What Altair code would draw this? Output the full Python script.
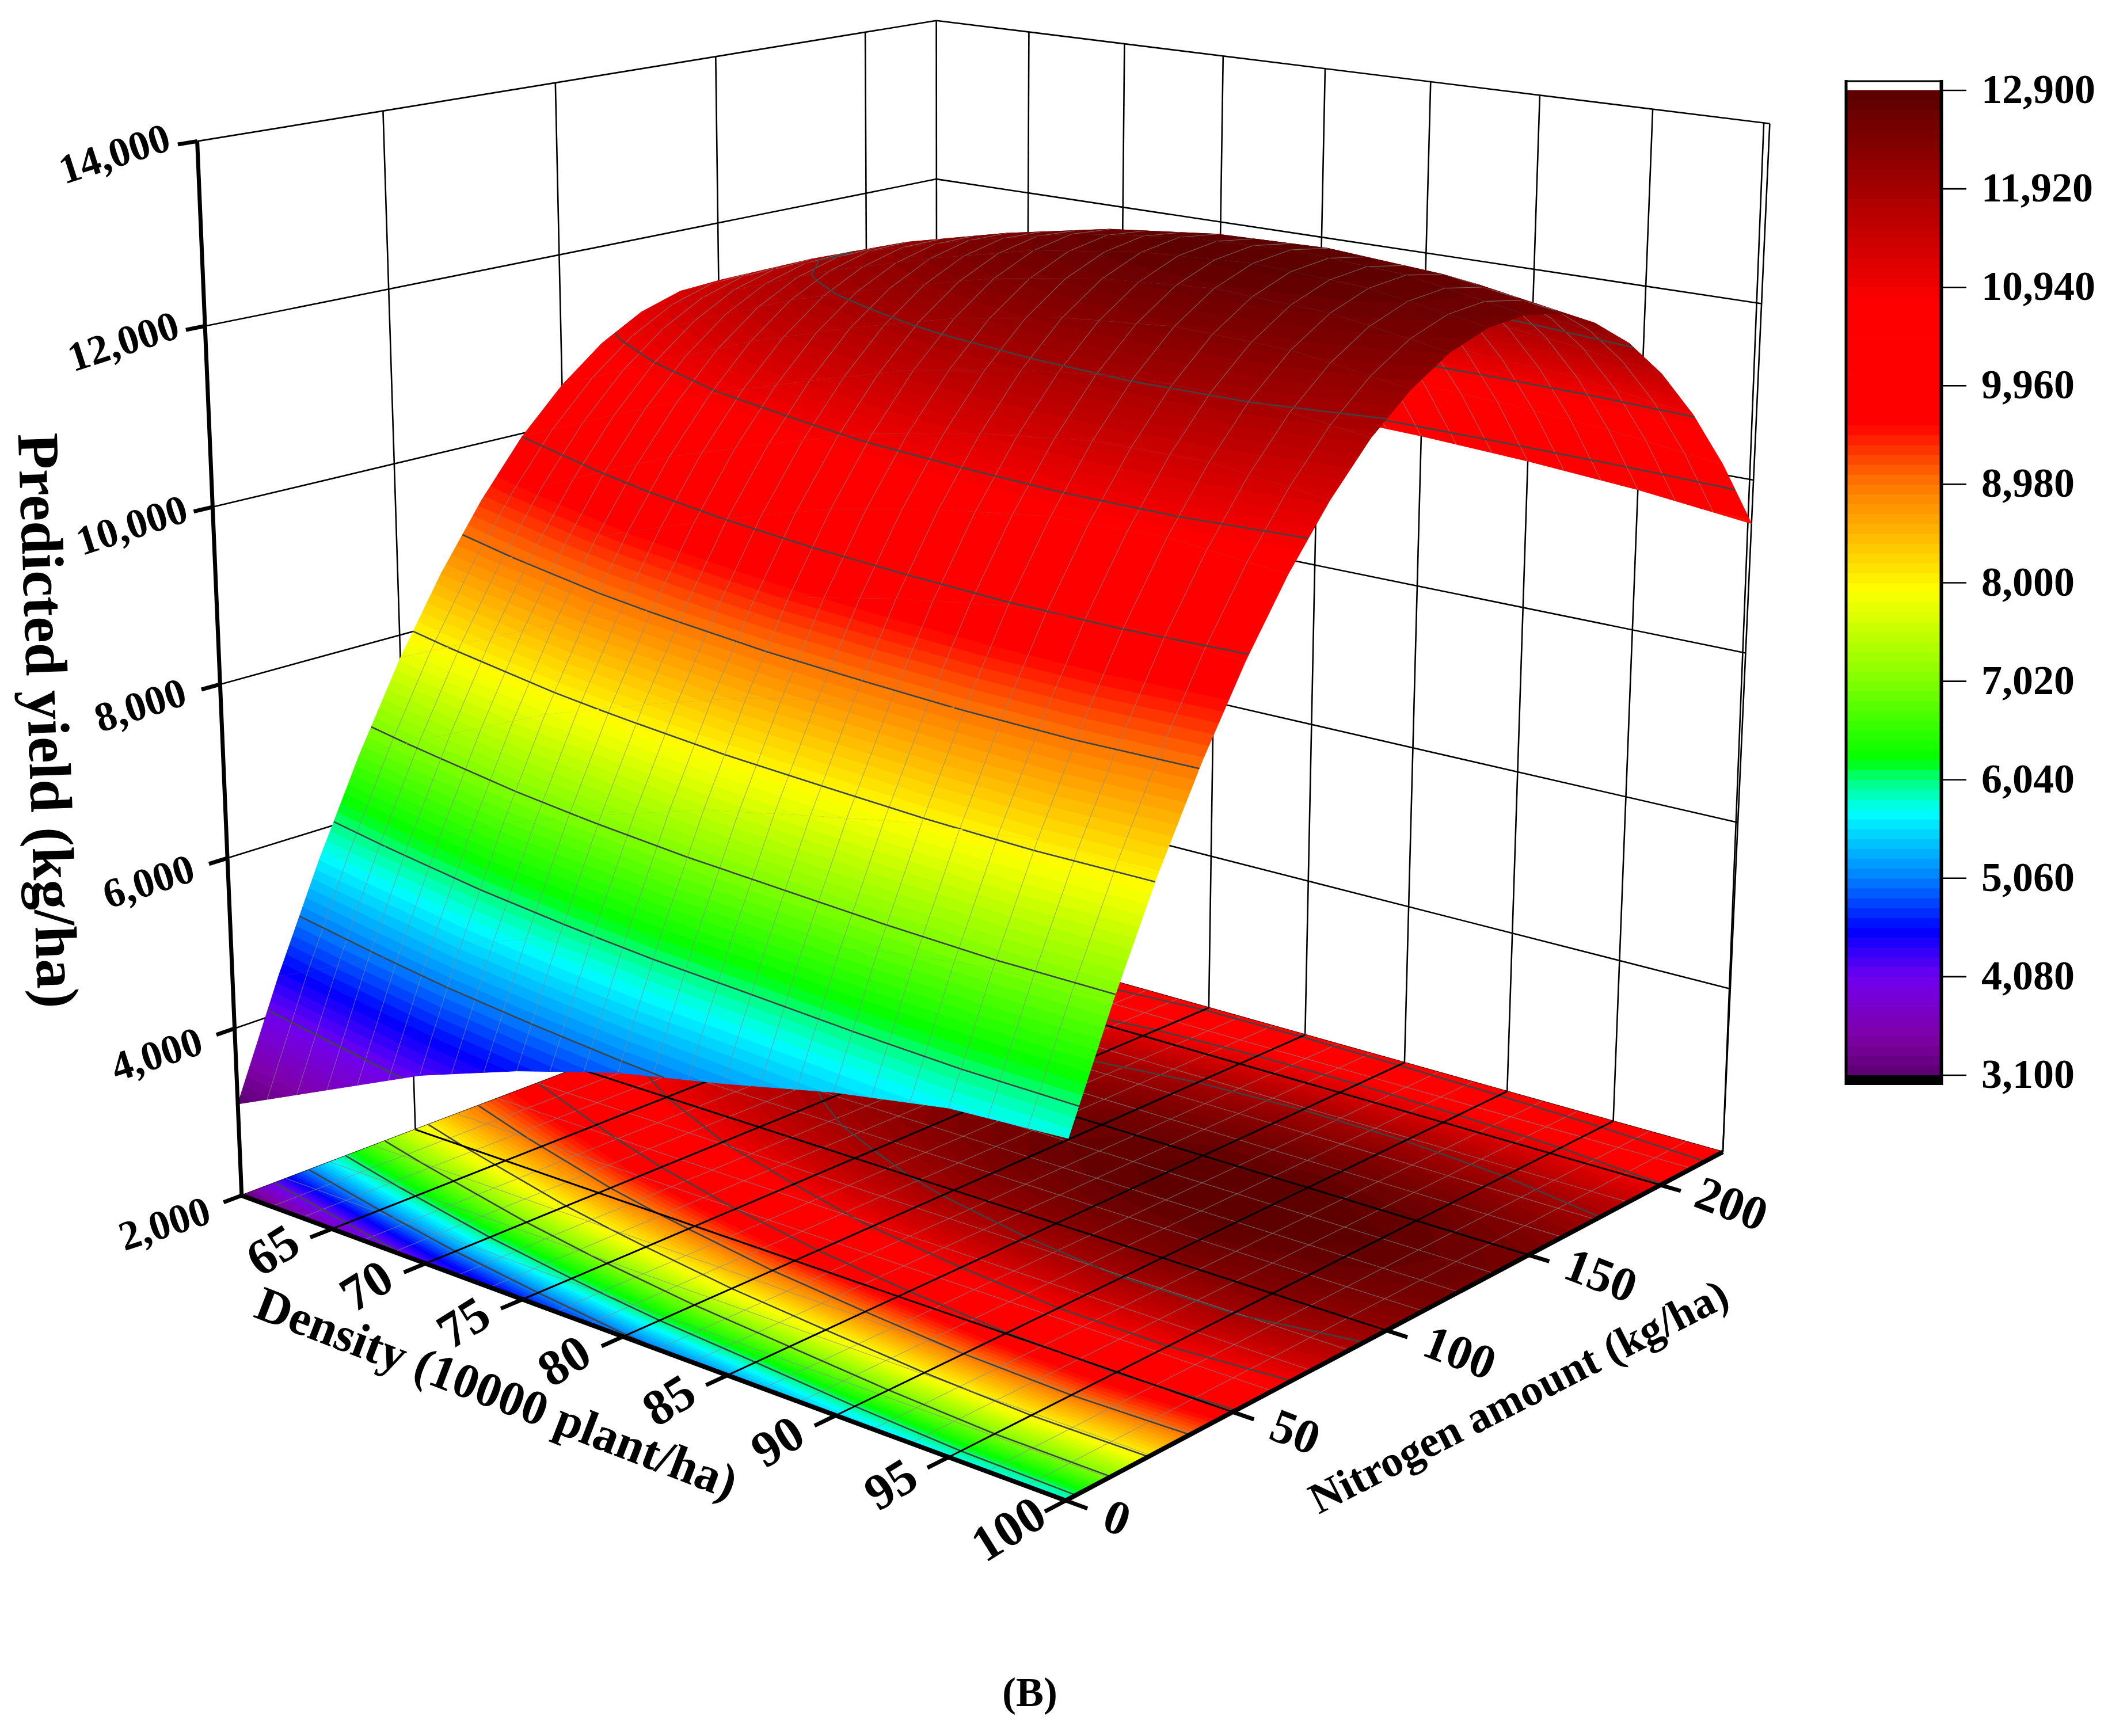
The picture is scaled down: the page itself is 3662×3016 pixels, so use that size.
import altair as alt
import numpy as np
import pandas as pd

density = [60, 65, 70, 75, 80, 85, 90, 95, 100]
nitrogen = [0, 12.5, 25, 37.5, 50, 62.5, 75, 87.5, 100, 112.5, 125, 137.5, 150, 162.5, 175, 187.5, 200, 212.5, 225]

# predicted yield, one row per density
yield_60 = [3100, 4430, 5640, 6740, 7730, 8590, 9330, 9960, 10460, 10850, 11120, 11270, 11300, 11210, 11000, 10680, 10230, 9670, 8990]
yield_65 = [3640, 4970, 6180, 7270, 8240, 9090, 9820, 10440, 10940, 11320, 11580, 11720, 11750, 11650, 11440, 11110, 10660, 10090, 9400]
yield_70 = [4180, 5500, 6700, 7780, 8740, 9580, 10300, 10900, 11390, 11760, 12000, 12130, 12140, 12030, 11800, 11450, 10990, 10400, 9700]
yield_75 = [4600, 5910, 7110, 8180, 9130, 9970, 10680, 11270, 11750, 12100, 12330, 12440, 12430, 12300, 12050, 11680, 11190, 10580, 9850]
yield_80 = [4950, 6270, 7470, 8540, 9490, 10320, 11020, 11600, 12060, 12400, 12610, 12700, 12660, 12500, 12220, 11820, 11290, 10640, 9860]
yield_85 = [5200, 6520, 7720, 8790, 9740, 10560, 11250, 11820, 12270, 12590, 12780, 12850, 12790, 12610, 12300, 11870, 11310, 10630, 9820]
yield_90 = [5480, 6780, 7950, 9000, 9930, 10730, 11400, 11950, 12380, 12680, 12850, 12900, 12820, 12620, 12300, 11850, 11270, 10570, 9750]
yield_95 = [5690, 6950, 8090, 9100, 9990, 10760, 11410, 11940, 12340, 12620, 12780, 12820, 12730, 12520, 12190, 11740, 11170, 10470, 9650]
yield_100 = [5760, 6970, 8070, 9040, 9900, 10640, 11260, 11770, 12150, 12420, 12570, 12600, 12510, 12300, 11980, 11540, 10980, 10300, 9500]
yields = [yield_60, yield_65, yield_70, yield_75, yield_80, yield_85, yield_90, yield_95, yield_100]

yield_ticks = [2000, 4000, 6000, 8000, 10000, 12000, 14000]
density_ticks = [65, 70, 75, 80, 85, 90, 95, 100]
nitrogen_ticks = [0, 50, 100, 150, 200]
legend_ticks = [3100, 4080, 5060, 6040, 7020, 8000, 8980, 9960, 10940, 11920, 12900]

color_levels = [3100, 3500, 4080, 4540, 5060, 5720, 6040, 6240, 7020, 7930, 8980, 9590, 10780, 11920, 12900]
color_hex = ["#5c0070", "#8000a8", "#7000f0", "#0000ff", "#0080ff", "#00ffff", "#00ff80", "#00ff00", "#80ff00",
             "#ffff00", "#ff7800", "#ff0000", "#ff0000", "#a40000", "#5a0000"]

# box corners and ticks as they sit in the picture, used to fit the camera
camera_marks = [
    (60, 0, 2000, 421, 2079), (60, 0, 14000, 343, 243), (60, 225, 14000, 1628, 35),
    (60, 225, 2000, 1628, 1615), (100, 225, 14000, 3074, 215), (100, 225, 2000, 2992, 2002),
    (100, 0, 2000, 1856, 2604), (100, 50, 2000, 2144, 2453), (100, 100, 2000, 2409, 2312),
    (100, 150, 2000, 2657, 2182), (100, 200, 2000, 2885, 2060), (65, 0, 2000, 580, 2134),
    (70, 0, 2000, 738, 2197), (75, 0, 2000, 906, 2258), (80, 0, 2000, 1080, 2324),
    (85, 0, 2000, 1263, 2390), (90, 0, 2000, 1447, 2458), (95, 0, 2000, 1646, 2527),
    (60, 0, 8000, 383, 1191), (60, 0, 12000, 356, 567), (60, 225, 12000, 1625, 312),
    (100, 225, 12000, 3061, 528), (100, 225, 10000, 3045, 834),
]


def norm(d, n, z):
    return (d - 80) / 20, n / 112.5 - 1, (z - 8000) / 6000


rows, rhs = [], []
for d, n, z, px, py in camera_marks:
    a, b, c = norm(d, n, z)
    rows.append([a, b, c, 1, 0, 0, 0, 0, -px * a, -px * b, -px * c])
    rows.append([0, 0, 0, 0, a, b, c, 1, -py * a, -py * b, -py * c])
    rhs += [px, py]
cam = np.append(np.linalg.lstsq(np.array(rows, float), np.array(rhs, float), rcond=None)[0], 1).reshape(3, 4)


def project(d, n, z):
    v = cam @ np.array([*norm(d, n, z), 1])
    return round(v[0] / v[2] - 8, 1), round(v[1] / v[2] - 8, 1), v[2]


def poly_feature(points, level):
    ring = points + [points[0]]
    return {"type": "Feature", "geometry": {"type": "Polygon", "coordinates": [ring]},
            "properties": {"kind": "band", "level": level, "sw": 1, "op": 1}}


def seg_feature(p, q, kind, sw, op=1):
    return {"type": "Feature", "geometry": {"type": "LineString", "coordinates": [list(p), list(q)]},
            "properties": {"kind": kind, "level": 0, "sw": sw, "op": op}}


def clip(poly, level, keep_above):
    out = []
    for i, p in enumerate(poly):
        q = poly[(i + 1) % len(poly)]
        p_in = p[2] >= level if keep_above else p[2] <= level
        q_in = q[2] >= level if keep_above else q[2] <= level
        if p_in:
            out.append(p)
        if p_in != q_in:
            t = (level - p[2]) / (q[2] - p[2])
            out.append((p[0] + t * (q[0] - p[0]), p[1] + t * (q[1] - p[1]), level))
    return out


def lerp(p, q, t):
    return tuple(p[k] + t * (q[k] - p[k]) for k in range(3))


band_step = 98
band_lows = [3100 + band_step * k for k in range(100)]


def cell_features(corners, floor):
    def xy(p):
        return project(p[0], p[1], 2000 if floor else p[2])[:2]

    feats = []
    zs = [c[2] for c in corners]
    for lo in band_lows:
        if lo > max(zs) or lo + band_step < min(zs):
            continue
        piece = clip(clip(corners, lo, True), lo + band_step, False)
        if len(piece) >= 3:
            feats.append(poly_feature([list(xy(p)) for p in piece], lo + band_step / 2))
    return feats


def mesh_features(corners, i, j, floor):
    def xy(p):
        return project(p[0], p[1], 2000 if floor else p[2])[:2]

    feats = []
    a, b, c, d = corners  # a,b along nitrogen at low density; d,c at high density
    for f in (0, 1 / 3, 2 / 3):
        if j == 0 and f == 0:
            continue
        feats.append(seg_feature(xy(lerp(a, d, f)), xy(lerp(b, c, f)), "mesh", 1.1, 0.7))
    if i > 0:
        feats.append(seg_feature(xy(a), xy(d), "mesh", 1.1, 0.7))
    # contour lines at the legend's tick values
    for tick in legend_ticks[1:-1]:
        level = tick + 0.5
        pts = []
        for k in range(4):
            p, q = corners[k], corners[(k + 1) % 4]
            if (p[2] - level) * (q[2] - level) < 0:
                pts.append(lerp(p, q, (level - p[2]) / (q[2] - p[2])))
        if len(pts) == 2:
            feats.append(seg_feature(xy(pts[0]), xy(pts[1]), "contour", 2.6))
    return feats


cells = []
for i in range(len(nitrogen) - 1):
    for j in range(len(density) - 1):
        corners = [
            (density[j], nitrogen[i], yields[j][i]),
            (density[j], nitrogen[i + 1], yields[j][i + 1]),
            (density[j + 1], nitrogen[i + 1], yields[j + 1][i + 1]),
            (density[j + 1], nitrogen[i], yields[j + 1][i]),
        ]
        depth = np.mean([project(*c)[2] for c in corners])
        cells.append((depth, i, j, corners))

floor_features = []
for depth, i, j, corners in cells:
    floor_features += cell_features(corners, True)
for depth, i, j, corners in cells:
    floor_features += mesh_features(corners, i, j, True)

surface_features = []
for depth, i, j, corners in sorted(cells, key=lambda c: -c[0]):
    surface_features += cell_features(corners, False)
    surface_features += mesh_features(corners, i, j, False)


def line(p, q, sw):
    return seg_feature(project(*p)[:2], project(*q)[:2], "line", sw)


wall_lines = []
for z in yield_ticks[1:]:
    wall_lines.append(line((60, 0, z), (60, 225, z), 2.6))
    wall_lines.append(line((60, 225, z), (100, 225, z), 2.6))
for n in [50, 100, 150, 200]:
    wall_lines.append(line((60, n, 2000), (60, n, 14000), 2.6))
for d in density_ticks[:-1]:
    wall_lines.append(line((d, 225, 2000), (d, 225, 14000), 2.6))
wall_lines.append(line((60, 225, 2000), (60, 225, 14000), 2.6))
wall_lines.append(line((100, 225, 2000), (100, 225, 14000), 2.6))
wall_lines.append(line((100, 225, 2000), (99.75, 225, 14000), 2.6))
wall_lines.append(line((60, 0, 2000), (60, 225, 2000), 2.6))
wall_lines.append(line((60, 225, 2000), (100, 225, 2000), 2.6))

floor_lines = []
for d in density_ticks[:-1]:
    floor_lines.append(line((d, 0, 2000), (d, 225, 2000), 3))
for n in [50, 100, 150, 200]:
    floor_lines.append(line((60, n, 2000), (100, n, 2000), 3))

axis_lines = [
    line((60, 0, 14000), (60, 0, 2000), 7),
    line((60, 0, 2000), (100, 0, 2000), 8),
    line((100, 0, 2000), (100, 225, 2000), 8),
]
for z in yield_ticks:
    axis_lines.append(line((60, 0, z), (60, -5, z), 7))
for d in density_ticks:
    axis_lines.append(line((d, 0, 2000), (d, -6, 2000), 7))
for n in nitrogen_ticks:
    axis_lines.append(line((100, n, 2000), (100.9, n, 2000), 7))

# colour scale box
leg_left, leg_right, leg_top, leg_low = 3201, 3362, 149, 1860
leg_scale = (leg_low - leg_top) / (12900 - 3100)


def leg_y(v):
    return round(leg_low - (v - 3100) * leg_scale, 1)


legend_features = []
for lo in band_lows:
    legend_features.append(poly_feature(
        [[leg_left, leg_y(lo)], [leg_right, leg_y(lo)], [leg_right, leg_y(lo + band_step)], [leg_left, leg_y(lo + band_step)]],
        lo + band_step / 2))
legend_lines = [
    seg_feature((leg_left, 133), (leg_right, 133), "line", 3),
    seg_feature((leg_left - 2, 131), (leg_left - 2, 1877), "line", 5),
    seg_feature((leg_right + 2.5, 131), (leg_right + 2.5, 1877), "line", 6),
    seg_feature((leg_left - 4, 1868.5), (leg_right + 5, 1868.5), "line", 17),
]
for v in legend_ticks:
    legend_lines.append(seg_feature((leg_right + 5, leg_y(v)), (3408, leg_y(v)), "line", 2.6))

color_scale = alt.Scale(domain=color_levels, range=color_hex, interpolate="rgb")
identity = dict(type="identity", scale=1, translate=[0, 0])


def shapes(features):
    return (
        alt.Chart(alt.Data(values=features))
        .mark_geoshape()
        .encode(
            fill=alt.Fill("properties.level:Q", scale=color_scale, legend=None,
                          condition={"test": "datum.properties.kind != 'band'", "value": "transparent"}),
            stroke=alt.Stroke("properties.level:Q", scale=color_scale, legend=None,
                              condition=[
                                  {"test": "datum.properties.kind == 'mesh'", "value": "#808c8c"},
                                  {"test": "datum.properties.kind == 'contour'", "value": "#3c4444"},
                                  {"test": "datum.properties.kind == 'line'", "value": "#000000"},
                              ]),
            strokeWidth=alt.StrokeWidth("properties.sw:Q", scale=None),
            strokeOpacity=alt.StrokeOpacity("properties.op:Q", scale=None),
        )
        .project(**identity)
    )


def texts(labels, xs, ys, size, angle=0, align="center"):
    source = pd.DataFrame({"label": labels, "px": xs, "py": ys})
    return (
        alt.Chart(source)
        .mark_text(font="Liberation Serif", fontWeight="bold", fontSize=size, angle=angle, align=align,
                   baseline="middle", color="black")
        .encode(longitude="px:Q", latitude="py:Q", text="label:N")
        .project(**identity)
    )


z_pos = [project(60, -21, z) for z in yield_ticks]
d_pos = [project(d, -16, 2000) for d in density_ticks]
n_pos = [project(100 + 1.6 + 0.5 * len(str(n)), n, 2000) for n in nitrogen_ticks]

layers = [
    shapes(wall_lines),
    shapes(floor_features),
    shapes(floor_lines),
    shapes(surface_features),
    shapes(axis_lines),
    shapes(legend_features),
    shapes(legend_lines),
    texts([f"{z:,}" for z in yield_ticks], [p[0] for p in z_pos], [p[1] for p in z_pos], 72, 342),
    texts([str(d) for d in density_ticks], [p[0] for p in d_pos], [p[1] for p in d_pos], 88, 328),
    texts([str(n) for n in nitrogen_ticks], [p[0] for p in n_pos], [p[1] for p in n_pos], 84, 21),
    texts([f"{v:,}" for v in legend_ticks], [3434] * len(legend_ticks), [leg_y(v) for v in legend_ticks], 72, 0, "left"),
    texts(["Predicted yield (kg/ha)"], [72], [1244], 103, 88),
    texts(["Density (10000 plant/ha)"], [854], [2414], 85, 21),
    texts(["Nitrogen amount (kg/ha)"], [2631], [2420], 76, 333),
    texts(["(B)"], [1781], [2934], 72),
]

chart = alt.layer(*layers).properties(
    width=3646, height=3000, padding=0, autosize=alt.AutoSizeParams(type="none")
).configure_view(stroke=None)

chart.save("out.html", embed_options={"renderer": "svg", "actions": False})
